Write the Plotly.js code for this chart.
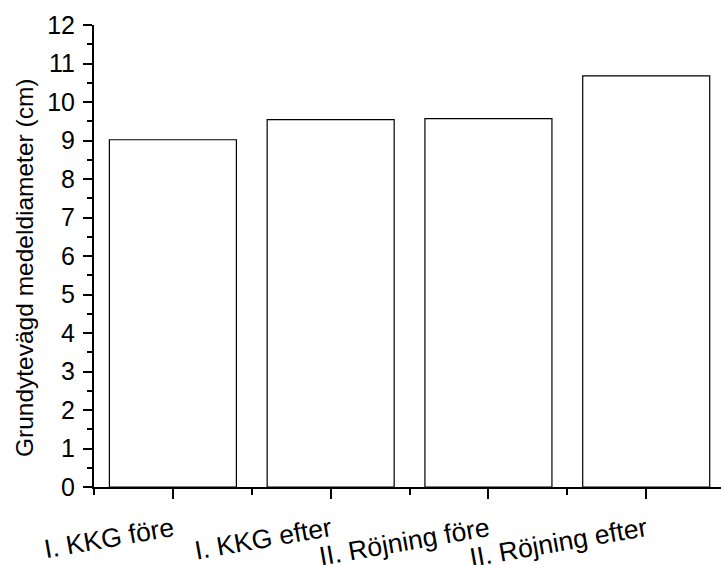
<!DOCTYPE html>
<html>
<head>
<meta charset="utf-8">
<script src="https://cdn.plot.ly/plotly-3.0.1.min.js"></script>
<style>html,body{margin:0;padding:0;background:#fff;}#chart{width:721px;height:565px;}</style>
</head>
<body>
<div id="chart"></div>
<script>
const categories = ["I. KKG före", "I. KKG efter", "II. Röjning före", "II. Röjning efter"];
const values = [9.02, 9.54, 9.57, 10.68];
const yTitle = "Grundytevägd medeldiameter (cm)";
const positions = categories.map((c, i) => i);

const trace = {
  type: "bar",
  x: positions,
  y: values,
  width: 0.805,
  marker: {color: "#ffffff", line: {color: "#000000", width: 1.2}},
  hoverinfo: "skip",
  cliponaxis: false
};

const font = "Liberation Sans, Arial, sans-serif";

const layout = {
  width: 721, height: 565,
  margin: {l: 94, r: 0, t: 25, b: 78, pad: 0},
  paper_bgcolor: "#ffffff", plot_bgcolor: "#ffffff",
  showlegend: false,
  font: {family: font, color: "#000"},
  xaxis: {
    range: [-0.5, 3.474],
    tickmode: "array",
    tickvals: positions,
    ticktext: categories,
    tickangle: -10,
    automargin: false,
    tickfont: {size: 26.5, family: font, color: "#000"},
    showline: true, linecolor: "#000", linewidth: 2,
    ticks: "outside", ticklen: 10, tickwidth: 2, tickcolor: "#000",
    minor: {tick0: 0.5, dtick: 1, ticks: "outside", ticklen: 6, tickwidth: 2, tickcolor: "#000"},
    showgrid: false, zeroline: false, fixedrange: true,
    ticklabelstandoff: 5
  },
  yaxis: {
    range: [0, 12],
    tick0: 0, dtick: 1,
    automargin: false,
    tickfont: {size: 25, family: font, color: "#000"},
    showline: true, linecolor: "#000", linewidth: 2,
    ticks: "outside", ticklen: 9, tickwidth: 2, tickcolor: "#000",
    minor: {dtick: 0.5, ticks: "outside", ticklen: 5, tickwidth: 2, tickcolor: "#000"},
    showgrid: false, zeroline: false, fixedrange: true,
    ticklabelstandoff: 3
  },
  annotations: [{
    text: yTitle, textangle: -90,
    xref: "paper", yref: "paper",
    x: -94/627, xanchor: "left", xshift: 9,
    y: 0.475, yanchor: "middle",
    showarrow: false,
    font: {size: 24.5, family: font, color: "#000"}
  }]
};

Plotly.newPlot("chart", [trace], layout, {displayModeBar: false, staticPlot: true});
</script>
</body>
</html>
